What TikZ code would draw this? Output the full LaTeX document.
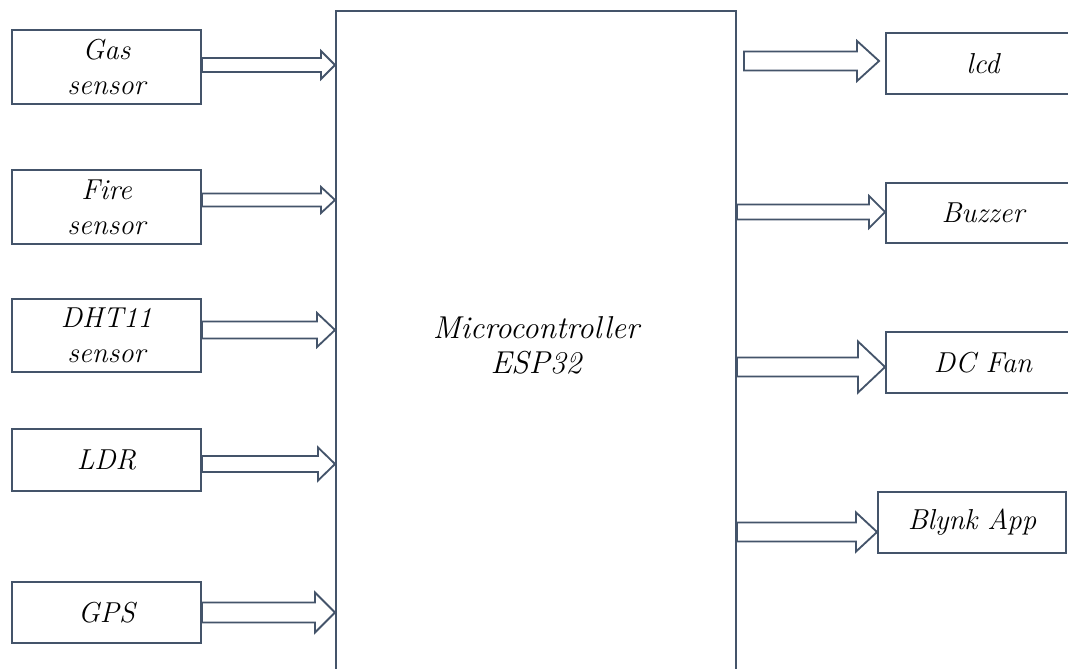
\documentclass[tikz,border=0pt]{standalone}
\usepackage{fontspec}
\usepackage{tikz}
\usetikzlibrary{calc}
\usetikzlibrary{positioning}

\definecolor{slateline}{RGB}{68,84,106}
\tikzset{
  blockbox/.style={draw=slateline, line width=1.3pt, rectangle, inner sep=0pt,
    align=center, font=\itshape\fontsize{20.5}{25}\selectfont},
  arrowline/.style={draw=slateline, line width=1.3pt, line join=miter}
}
% hollow block arrow: start, tip, half shaft, half head, head length
\newcommand{\hollowarrow}[5]{%
  \draw[arrowline] ($(#1)+(0,#3)$) -- ($(#2)+(-#5,#3)$) -- ($(#2)+(-#5,#4)$) -- (#2)
    -- ($(#2)+(-#5,-#4)$) -- ($(#2)+(-#5,-#3)$) -- ($(#1)+(0,-#3)$) -- cycle;}

\begin{document}
\begin{tikzpicture}[x=0.025cm, y=-0.025cm]
        \useasboundingbox (0,0) rectangle (1068,669);
        \fill[white] (0,0) rectangle (1068,669);
        \clip (0,0) rectangle (1068,669);

        \node[blockbox, minimum width=10cm, minimum height=16.7cm,
              font=\itshape\fontsize{22.5}{25}\selectfont] (mcu) at (536,345) {Microcontroller\\ESP32};

        \node[blockbox, minimum width=4.73cm, minimum height=1.85cm] (gas) at (106.5,67) {Gas\\sensor};
        \node[blockbox, minimum width=4.73cm, minimum height=1.85cm] (fire) at (106.5,207) {Fire\\sensor};
        \node[blockbox, minimum width=4.73cm, minimum height=1.83cm] (dht) at (106.5,335.5) {DHT11\\sensor};
        \node[blockbox, minimum width=4.73cm, minimum height=1.55cm] (ldr) at (106.5,460) {LDR};
        \node[blockbox, minimum width=4.73cm, minimum height=1.53cm] (gps) at (106.5,612.5) {GPS};

        \node[blockbox, minimum width=4.85cm, minimum height=1.53cm] (lcd) at (983,63.5) {lcd};
        \node[blockbox, minimum width=4.85cm, minimum height=1.5cm] (buzzer) at (983,213) {Buzzer};
        \node[blockbox, minimum width=4.85cm, minimum height=1.53cm] (fan) at (983,362.5) {DC Fan};
        \node[blockbox, minimum width=4.7cm, minimum height=1.53cm] (blynk) at (972,522.5) {Blynk App};

        \path ($(gas.east)+(0,-2)$) coordinate (g0) (g0 -| mcu.west) coordinate (g1);
        \path ($(fire.east)+(0,-7)$) coordinate (f0) (f0 -| mcu.west) coordinate (f1);
        \path ($(dht.east)+(0,-5.5)$) coordinate (d0) (d0 -| mcu.west) coordinate (d1);
        \path ($(ldr.east)+(0,4)$) coordinate (r0) (r0 -| mcu.west) coordinate (r1);
        \path (gps.east) coordinate (p0) (p0 -| mcu.west) coordinate (p1);
        \hollowarrow{g0}{g1}{7}{14}{14}
        \hollowarrow{f0}{f1}{6.5}{13}{14}
        \hollowarrow{d0}{d1}{8.5}{17}{18}
        \hollowarrow{r0}{r1}{8}{16.5}{17}
        \hollowarrow{p0}{p1}{10}{20}{20}

        \path ($(mcu.east |- lcd.west)+(7,-2.5)$) coordinate (l0) ($(l0 -| lcd.west)+(-6,0)$) coordinate (l1);
        \path ($(mcu.east |- buzzer.west)+(0,-1)$) coordinate (b0) (b0 -| buzzer.west) coordinate (b1);
        \path ($(mcu.east |- fan.west)+(0,4.5)$) coordinate (n0) (n0 -| fan.west) coordinate (n1);
        \path ($(mcu.east |- blynk.west)+(0,9.5)$) coordinate (k0) (k0 -| blynk.west) coordinate (k1);
        \hollowarrow{l0}{l1}{9.5}{20}{22}
        \hollowarrow{b0}{b1}{7.5}{16}{16}
        \hollowarrow{n0}{n1}{9.5}{25.5}{27}
        \hollowarrow{k0}{k1}{9.5}{19.5}{21}
\end{tikzpicture}
\end{document}
